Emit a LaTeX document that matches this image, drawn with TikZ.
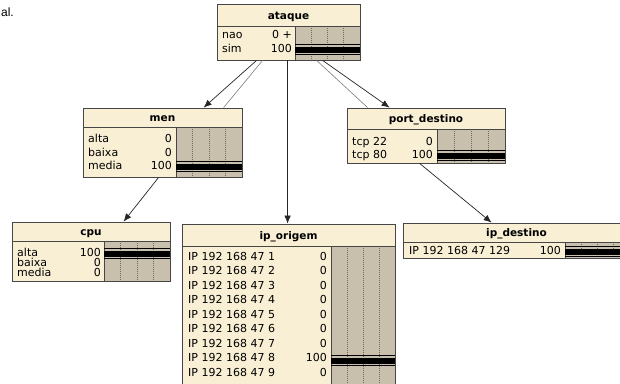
\documentclass[tikz,border=0pt]{standalone}
\usepackage{fontspec}
\setmainfont{DejaVu Sans}
\newfontfamily\arialfont{Liberation Sans}
\usetikzlibrary{fit,arrows.meta}
\definecolor{cream}{RGB}{248,239,212}
\definecolor{bargray}{RGB}{200,192,172}
\definecolor{frame}{RGB}{70,70,70}
\definecolor{dotcol}{RGB}{110,105,95}
\definecolor{linkgray}{RGB}{125,125,125}
\tikzset{
  boxframe/.style={draw=frame, line width=0.8pt, inner sep=0pt},
  titletext/.style={font=\fontsize{10.5}{12}\selectfont\bfseries, inner sep=0pt, anchor=base},
  rowtext/.style={font=\fontsize{11}{12}\selectfont, inner sep=0pt},
  dotline/.style={dotcol, line width=0.6pt, dash pattern=on 1pt off 1pt},
  sepline/.style={frame, line width=0.8pt},
  link/.style={black!85, line width=0.7pt, -{Latex[length=8pt,width=6.5pt]}},
  faintlink/.style={linkgray, line width=0.6pt},
}
% name, x1, y1, x2, y2, sep, barx, title
\newcommand\bnbox[8]{%
  \fill[cream] (#2,#3) rectangle (#4,#5);
  \fill[bargray] (#7,#6) rectangle (#4,#5);
  \foreach \k in {1,2,3}{\draw[dotline] ({#7+\k*(#4-#7)/4},#6) -- ({#7+\k*(#4-#7)/4},#5);}
  \draw[sepline] (#2,#6) -- (#4,#6) (#7,#6) -- (#7,#5);
  \node[boxframe, fit={(#2,#3)(#4,#5)}] (#1) {};
  \node[titletext] (#1-title) at ({(#2+#4)/2},{(#3+#6)/2+4}) {#8};
}
% label x, value right x, y, label, value
\newcommand\bnrow[5]{%
  \node[rowtext, anchor=base west] at (#1,{#3+4}) {#4};
  \node[rowtext, anchor=base east] at (#2,{#3+4}) {#5};
}
% barx, x2, y
\newcommand\bnbar[3]{%
  \fill[black] (#1,{#3-1.5}) rectangle (#2,{#3+4.5});
  \draw[black, line width=0.7pt] (#1,{#3-3.6}) -- (#2,{#3-3.6});
  \draw[black, line width=0.7pt] (#1,{#3+6.6}) -- (#2,{#3+6.6});
}
\begin{document}
\begin{tikzpicture}[x=1pt,y=-1pt]
\clip (0,0) rectangle (620,383);
\fill[white] (0,0) rectangle (620,383);

\node[font=\arialfont\fontsize{12}{14}\selectfont, anchor=base east, inner sep=0pt] (cut) at (14,16) {al.};

% ataque
\bnbox{ataque}{217}{4}{360}{60}{26}{295}{ataque}
\bnbar{295}{360}{48}
\bnrow{222}{292}{34}{nao}{0 +}
\bnrow{222}{292}{48}{sim}{100}

% men
\bnbox{men}{83}{108}{242}{177}{127}{176}{men}
\bnbar{176}{242}{165}
\bnrow{88}{172}{138}{alta}{0}
\bnrow{88}{172}{152}{baixa}{0}
\bnrow{88}{172}{165}{media}{100}

% port_destino
\bnbox{port}{347}{108}{505}{163}{129}{437}{port\_destino}
\bnbar{437}{505}{154}
\bnrow{352}{433}{141}{tcp 22}{0}
\bnrow{352}{433}{154}{tcp 80}{100}

% cpu
\bnbox{cpu}{12}{222}{170}{281}{241}{104}{cpu}
\bnbar{104}{170}{252}
\bnrow{17}{101}{252}{alta}{100}
\bnrow{17}{101}{262}{baixa}{0}
\bnrow{17}{101}{272}{media}{0}

% ip_origem
\bnbox{iporig}{182}{224}{395}{395}{246}{331}{ip\_origem}
\bnbar{331}{395}{359}
\bnrow{188}{327}{256}{IP 192 168 47 1}{0}
\bnrow{188}{327}{270.5}{IP 192 168 47 2}{0}
\bnrow{188}{327}{285}{IP 192 168 47 3}{0}
\bnrow{188}{327}{299.5}{IP 192 168 47 4}{0}
\bnrow{188}{327}{314}{IP 192 168 47 5}{0}
\bnrow{188}{327}{328.5}{IP 192 168 47 6}{0}
\bnrow{188}{327}{343}{IP 192 168 47 7}{0}
\bnrow{188}{327}{357.5}{IP 192 168 47 8}{100}
\bnrow{188}{327}{372}{IP 192 168 47 9}{0}

% ip_destino
\bnbox{ipdest}{403}{223}{630}{258}{242}{565}{ip\_destino}
\bnbar{565}{630}{250}
\bnrow{409}{561}{250}{IP 192 168 47 129}{100}

% connectors
\draw[faintlink] ([xshift=46pt]ataque.south west) -- ([xshift=141pt]men.north west);
\draw[link] ([xshift=40pt]ataque.south west) -- ([xshift=121pt]men.north west);
\draw[faintlink] ([xshift=100pt]ataque.south west) -- ([xshift=21pt]port.north west);
\draw[link] ([xshift=106pt]ataque.south west) -- ([xshift=43pt]port.north west);
\draw[link] ([xshift=71pt]ataque.south west) -- ([xshift=106pt]iporig.north west);
\draw[link] ([xshift=76pt]men.south west) -- ([xshift=112pt]cpu.north west);
\draw[link] ([xshift=73pt]port.south west) -- ([xshift=89pt]ipdest.north west);
\end{tikzpicture}
\end{document}
